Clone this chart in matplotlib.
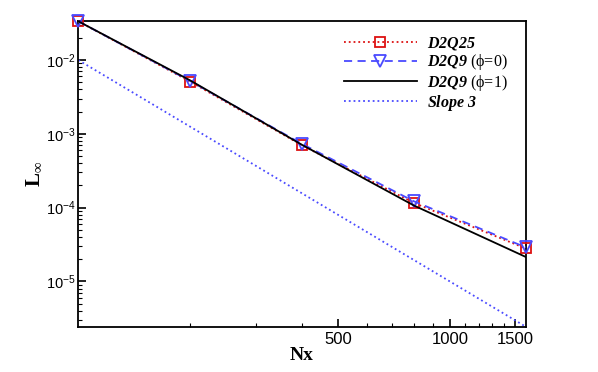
import numpy as np
import matplotlib.pyplot as plt
from matplotlib.ticker import FixedLocator, NullFormatter, FixedFormatter
from matplotlib.lines import Line2D

# dados
nx = [100, 200, 400, 800, 1600]
err_d2q25 = [3.35e-2, 5.1e-3, 7.0e-4, 1.16e-4, 2.8e-5]
err_d2q9_phi0 = [3.35e-2, 5.2e-3, 7.3e-4, 1.22e-4, 2.9e-5]
err_d2q9_phi1 = [3.35e-2, 5.3e-3, 7.1e-4, 1.07e-4, 2.15e-5]
slope3 = [1.0e-2, 1.25e-3, 1.5625e-4, 1.953e-5, 2.441e-6]

red = '#dd1111'
blue = '#4a4aff'
dash = (0, (4.5, 3))

plt.rcParams['font.family'] = 'Liberation Sans'
plt.rcParams['mathtext.fontset'] = 'custom'
plt.rcParams['mathtext.bf'] = 'Liberation Serif:bold:italic'
plt.rcParams['mathtext.rm'] = 'Liberation Sans'
plt.rcParams['mathtext.it'] = 'Liberation Serif:italic'
plt.rcParams['mathtext.default'] = 'regular'

fig = plt.figure(figsize=(5.98, 3.72), dpi=100)
ax = fig.add_axes([0.131, 0.122, 0.748, 0.822])

ax.plot(nx, err_d2q25, ls=':', color=red, lw=1.3, marker='s', ms=7,
        mfc='none', mec=red, mew=1.3, zorder=3, clip_on=False)
ax.plot(nx, err_d2q9_phi0, ls=dash, color=blue, lw=1.3, marker='v', ms=8.5,
        mfc='none', mec=blue, mew=1.3, zorder=4, clip_on=False)
ax.plot(nx, err_d2q9_phi1, ls='-', color='black', lw=1.3, zorder=5)
ax.plot(nx, slope3, ls=':', color=blue, lw=1.3, zorder=2)

ax.set_xscale('log')
ax.set_yscale('log')
ax.set_xlim(100, 1600)
ax.set_ylim(2.44e-6, 3.4e-2)

ax.xaxis.set_major_locator(FixedLocator([500, 1000, 1500]))
ax.xaxis.set_major_formatter(FixedFormatter(['500', '1000', '1500']))
ax.xaxis.set_minor_locator(FixedLocator([200, 300, 400, 600, 700, 800, 900,
                                         1100, 1200, 1300, 1400]))
ax.xaxis.set_minor_formatter(NullFormatter())

ax.tick_params(which='both', direction='in', top=False, right=False)
ax.tick_params(which='major', length=6, width=1.2, labelsize=12, pad=4)
ax.tick_params(axis='y', which='major', labelsize=10.5, pad=2)
ax.tick_params(which='minor', length=3, width=0.8)
for sp in ax.spines.values():
    sp.set_linewidth(1.3)

ax.set_xlabel('Nx', family='Liberation Serif', fontweight='bold', fontsize=14, labelpad=0)
ax.set_ylabel(r'L$_{\infty}$', family='Liberation Serif', fontweight='bold',
              fontsize=15, labelpad=1)

handles = [
    Line2D([], [], ls=':', color=red, lw=1.3, marker='s', ms=7, mfc='none', mew=1.3),
    Line2D([], [], ls=dash, color=blue, lw=1.3, marker='v', ms=8.5, mfc='none', mew=1.3),
    Line2D([], [], ls='-', color='black', lw=1.3),
    Line2D([], [], ls=':', color=blue, lw=1.3),
]
labels = [r'$\mathbf{D2Q25}$',
          r'$\mathbf{D2Q9}$ (ϕ=0)',
          r'$\mathbf{D2Q9}$ (ϕ=1)',
          r'$\mathbf{Slope\ 3}$']
leg = ax.legend(handles, labels, loc='upper right', frameon=False, handlelength=4.6,
                prop={'family': 'Liberation Serif', 'size': 11.5},
                labelspacing=0.02, borderaxespad=0.0, handletextpad=0.65,
                bbox_to_anchor=(0.975, 0.975))

fig.savefig('out.png', dpi=100)
